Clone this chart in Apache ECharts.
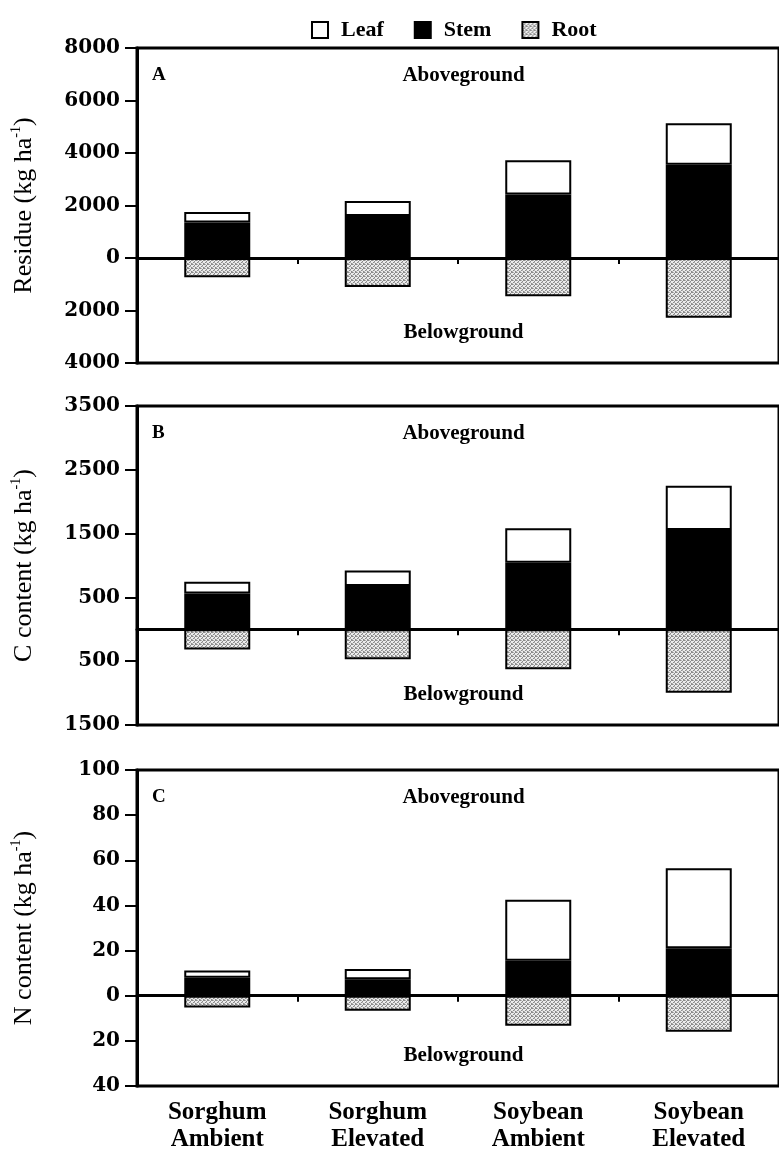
<!DOCTYPE html>
<html>
<head>
<meta charset="utf-8">
<script src="https://cdn.jsdelivr.net/npm/echarts@6/dist/echarts.min.js"></script>
<style>
html,body{margin:0;padding:0;background:#fff;}
#chart{width:779px;height:1153px;}
</style>
</head>
<body>
<div id="chart"></div>
<script>
// ---- data ----
const categories = ['Sorghum\nAmbient', 'Sorghum\nElevated', 'Soybean\nAmbient', 'Soybean\nElevated'];
const seriesNames = ['Leaf', 'Stem', 'Root'];

const residueStem = [1350, 1600, 2420, 3550];
const residueLeaf = [400, 570, 1300, 1580];
const residueRoot = [-730, -1100, -1460, -2280];

const carbonStem = [560, 680, 1045, 1555];
const carbonLeaf = [185, 240, 540, 695];
const carbonRoot = [-315, -470, -625, -995];

const nitrogenStem = [8, 7.3, 15.5, 21];
const nitrogenLeaf = [3.2, 4.5, 27, 35.5];
const nitrogenRoot = [-5.2, -6.7, -13.3, -16];

const panelLetters = ['A', 'B', 'C'];
const axisTitles = ['Residue', 'C content', 'N content'];
const axisRanges = [[-4000, 8000, 2000], [-1500, 3500, 1000], [-40, 100, 20]];

// ---- layout ----
const grids = [
  {left: 137, top: 48, width: 653, height: 315},
  {left: 137, top: 406, width: 653, height: 319},
  {left: 137, top: 770, width: 653, height: 316}
];

// stipple pattern for root
const pc = document.createElement('canvas');
pc.width = 4; pc.height = 4;
const pctx = pc.getContext('2d');
pctx.fillStyle = '#ececec'; pctx.fillRect(0, 0, 4, 4);
pctx.fillStyle = '#8a8a8a';
[[0,0],[2,1],[1,2],[3,3],[3,0]].forEach(p => pctx.fillRect(p[0], p[1], 1, 1));
pctx.fillStyle = '#b5b5b5';
[[1,0],[0,3],[2,2]].forEach(p => pctx.fillRect(p[0], p[1], 1, 1));
const rootFill = {image: pc, repeat: 'repeat'};

const serif = 'Liberation Serif';
const labelFont = 'DejaVu Serif';

const panelData = [
  [residueStem, residueLeaf, residueRoot],
  [carbonStem, carbonLeaf, carbonRoot],
  [nitrogenStem, nitrogenLeaf, nitrogenRoot]
];

const option = {
  animation: false,
  backgroundColor: '#fff',
  legend: {
    data: seriesNames,
    left: 306, top: 14,
    itemWidth: 16, itemHeight: 16, itemGap: 30,
    icon: 'rect',
    textStyle: {fontFamily: serif, fontWeight: 'bold', fontSize: 22, color: '#000', padding: [0, 0, 0, 8]}
  },
  grid: grids.map(g => Object.assign({show: true, borderColor: '#000', borderWidth: 3, backgroundColor: 'transparent'}, g)),
  xAxis: [],
  yAxis: [],
  series: [],
  graphic: []
};

grids.forEach((g, i) => {
  option.xAxis.push({
    type: 'category', gridIndex: i, data: categories,
    axisLine: {onZero: true, lineStyle: {color: '#000', width: 3}},
    axisTick: {show: true, length: 6, lineStyle: {color: '#000', width: 2}},
    axisLabel: {show: false}
  });
  const r = axisRanges[i];
  option.yAxis.push({
    type: 'value', gridIndex: i, min: r[0], max: r[1], interval: r[2],
    splitLine: {show: false},
    axisLine: {show: true, lineStyle: {color: '#000', width: 3}},
    axisTick: {show: true, length: 12, lineStyle: {color: '#000', width: 2}},
    axisLabel: {
      margin: 17, color: '#000', fontFamily: labelFont, fontWeight: 'bold', fontSize: 20,
      formatter: v => String(Math.abs(v))
    },
    name: '{a|' + axisTitles[i] + ' (kg ha}{s|-1}{a|)}',
    nameLocation: 'middle', nameGap: 98, nameRotate: 90,
    nameTextStyle: {
      rich: {
        a: {fontFamily: serif, fontSize: 26, color: '#000', lineHeight: 30},
        s: {fontFamily: serif, fontSize: 14, color: '#000', verticalAlign: 'top', lineHeight: 30, padding: [0, 0, 10, 0]}
      }
    }
  });
  const d = panelData[i];
  option.series.push(
    {name: 'Stem', type: 'bar', stack: 's' + i, xAxisIndex: i, yAxisIndex: i, data: d[0], barWidth: 66,
      itemStyle: {color: '#000', borderColor: '#000', borderWidth: 2}},
    {name: 'Leaf', type: 'bar', stack: 's' + i, xAxisIndex: i, yAxisIndex: i, data: d[1], barWidth: 66,
      itemStyle: {color: '#fff', borderColor: '#000', borderWidth: 2}},
    {name: 'Root', type: 'bar', stack: 's' + i, xAxisIndex: i, yAxisIndex: i, data: d[2], barWidth: 66,
      itemStyle: {color: rootFill, borderColor: '#000', borderWidth: 2}}
  );
  option.graphic.push(
    {type: 'text', left: g.left + 15, top: g.top + 18,
      style: {text: panelLetters[i], fontFamily: serif, fontWeight: 'bold', fontSize: 19, fill: '#000'}},
    {type: 'text', x: g.left + g.width / 2, y: g.top + 28,
      style: {text: 'Aboveground', fontFamily: serif, fontWeight: 'bold', fontSize: 21, fill: '#000', align: 'center', verticalAlign: 'middle'}},
    {type: 'text', x: g.left + g.width / 2, y: g.top + g.height - 30,
      style: {text: 'Belowground', fontFamily: serif, fontWeight: 'bold', fontSize: 21, fill: '#000', align: 'center', verticalAlign: 'middle'}}
  );
});

// bottom category labels for the last panel
option.xAxis.push({
  type: 'category', gridIndex: 2, data: categories, position: 'bottom',
  axisLine: {show: false, onZero: false}, axisTick: {show: false},
  axisLabel: {show: true, margin: 13, color: '#000', fontFamily: serif, fontWeight: 'bold', fontSize: 25, lineHeight: 27}
});

const chart = echarts.init(document.getElementById('chart'), null, {renderer: 'canvas'});
chart.setOption(option);
</script>
</body>
</html>
